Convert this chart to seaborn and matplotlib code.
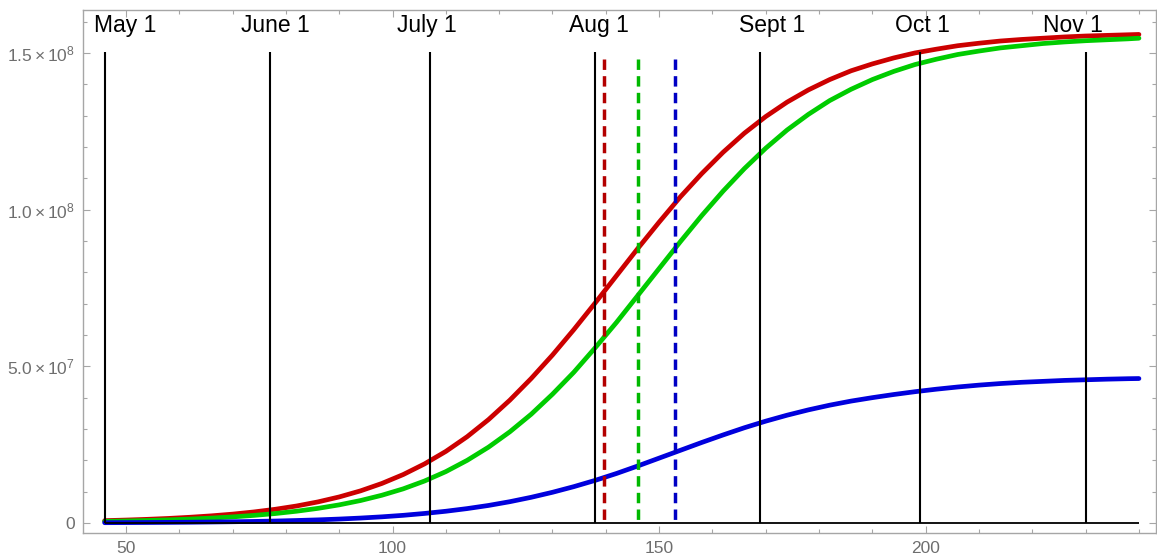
import numpy as np
import pandas as pd
import matplotlib
matplotlib.use("Agg")
import matplotlib.pyplot as plt
import seaborn as sns
from matplotlib.ticker import MultipleLocator, FixedLocator, FixedFormatter

# ---------------- data ----------------
days = [46, 50, 54, 58, 62, 66, 70, 74, 78, 82, 86, 90, 94, 98, 102, 106, 110,
        114, 118, 122, 126, 130, 134, 138, 142, 146, 150, 154, 158, 162, 166,
        170, 174, 178, 182, 186, 190, 194, 198, 202, 206, 210, 214, 218, 222,
        226, 230, 234, 238, 240]
# values in millions
red_vals = [0.75, 0.94, 1.17, 1.46, 1.83, 2.28, 2.83, 3.53, 4.38, 5.43, 6.73,
            8.32, 10.26, 12.62, 15.46, 18.86, 22.85, 27.55, 33.0, 39.2, 46.1,
            53.6, 61.7, 70.2, 78.9, 87.6, 96.0, 104.1, 111.5, 118.3, 124.4,
            129.7, 134.3, 138.2, 141.5, 144.3, 146.5, 148.4, 150.0, 151.2,
            152.3, 153.1, 153.8, 154.3, 154.7, 155.1, 155.4, 155.6, 155.8, 155.9]
green_vals = [0.52, 0.65, 0.81, 1.0, 1.25, 1.56, 1.95, 2.43, 3.02, 3.76, 4.67,
              5.79, 7.17, 8.86, 10.9, 13.4, 16.4, 20.0, 24.2, 29.1, 34.7, 41.1,
              48.1, 55.9, 64.0, 72.6, 81.2, 89.8, 98.1, 105.9, 113.1, 119.6,
              125.4, 130.4, 134.8, 138.4, 141.5, 144.1, 146.3, 148.0, 149.5,
              150.6, 151.6, 152.3, 153.0, 153.5, 153.9, 154.2, 154.5, 154.7]
blue_vals = [0.1, 0.13, 0.16, 0.2, 0.25, 0.32, 0.4, 0.5, 0.63, 0.8, 1.0, 1.26,
             1.58, 1.97, 2.45, 3.05, 3.75, 4.6, 5.6, 6.8, 8.2, 9.8, 11.6, 13.6,
             15.8, 18.2, 20.7, 23.2, 25.7, 28.1, 30.4, 32.5, 34.4, 36.1, 37.6,
             38.9, 40.0, 41.0, 41.9, 42.7, 43.4, 44.0, 44.5, 44.9, 45.2, 45.5,
             45.7, 45.9, 46.05, 46.1]

month_days = [46, 77, 107, 138, 169, 199, 230]
month_labels = ["May 1", "June 1", "July 1", "Aug 1", "Sept 1", "Oct 1", "Nov 1"]
label_days = [49.9, 78.1, 106.5, 138.8, 171.2, 199.4, 227.6]
peak_days = [139.6, 146.0, 152.9]

xtick_vals = [50, 100, 150, 200]
ytick_vals = [0, 5e7, 1e8, 1.5e8]
ytick_labels = ["0", r"$5.0\times10^{7}$", r"$1.0\times10^{8}$", r"$1.5\times10^{8}$"]

series_names = ["red", "green", "blue"]
curve_colors = ["#cc0000", "#00cc00", "#0000dd"]
peak_colors = ["#b30000", "#00b800", "#0000c4"]

# ---------------- styling ----------------
sns.set_theme(style="white")
plt.rcParams["font.family"] = ["Liberation Sans", "DejaVu Sans"]
plt.rcParams["mathtext.fontset"] = "custom"
plt.rcParams["mathtext.rm"] = "Liberation Sans"
plt.rcParams["mathtext.it"] = "Liberation Sans:italic"
plt.rcParams["mathtext.bf"] = "Liberation Sans:bold"

df = pd.DataFrame({
    "day": days * 3,
    "value": [v * 1e6 for v in red_vals + green_vals + blue_vals],
    "series": sum([[n] * len(days) for n in series_names], []),
})

fig = plt.figure(figsize=(11.57, 5.57), dpi=100)
W, H = 1157, 557
ax = fig.add_axes([83 / W, 24 / H, (1156 - 83) / W, (533 - 10) / H])

sns.lineplot(data=df, x="day", y="value", hue="series",
             palette=dict(zip(series_names, curve_colors)),
             linewidth=3.4, ax=ax, legend=False, zorder=3)

# dashed peak markers, drawn top-down so the dash pattern starts at the top
for d, c in zip(peak_days, peak_colors):
    ax.plot([d, d], [1.48e8, 0], color=c, linewidth=2.5,
            linestyle=(0, (3.0, 1.8)), solid_capstyle="butt",
            dash_capstyle="butt", zorder=4)

ax.vlines(month_days, 0, 1.502e8, colors="black", linewidth=1.5, zorder=5)
ax.hlines(0, days[0], days[-1], colors="black", linewidth=1.3, zorder=5)

for d, lab in zip(label_days, month_labels):
    ax.text(d, 1.566e8, lab, ha="center", va="baseline",
            fontsize=16.5, color="black", zorder=6)

ax.set_xlim(41.94, 243.2)
ax.set_ylim(-3.19e6, 1.637e8)

ax.xaxis.set_major_locator(FixedLocator(xtick_vals))
ax.xaxis.set_minor_locator(MultipleLocator(10))
ax.yaxis.set_major_locator(FixedLocator(ytick_vals))
ax.yaxis.set_major_formatter(FixedFormatter(ytick_labels))
ax.yaxis.set_minor_locator(MultipleLocator(1e7))

gray = "#a6a6a6"
for s in ax.spines.values():
    s.set_visible(True)
    s.set_color(gray)
    s.set_linewidth(1.0)

ax.tick_params(which="both", direction="in", color=gray, width=0.8,
               top=True, right=True, bottom=True, left=True,
               labelcolor="#6e6e6e", labelsize=12.5, pad=6)
ax.tick_params(which="major", length=5)
ax.tick_params(which="minor", length=3)
ax.set_xlabel("")
ax.set_ylabel("")
ax.grid(False)

fig.savefig("out.png", dpi=100)
